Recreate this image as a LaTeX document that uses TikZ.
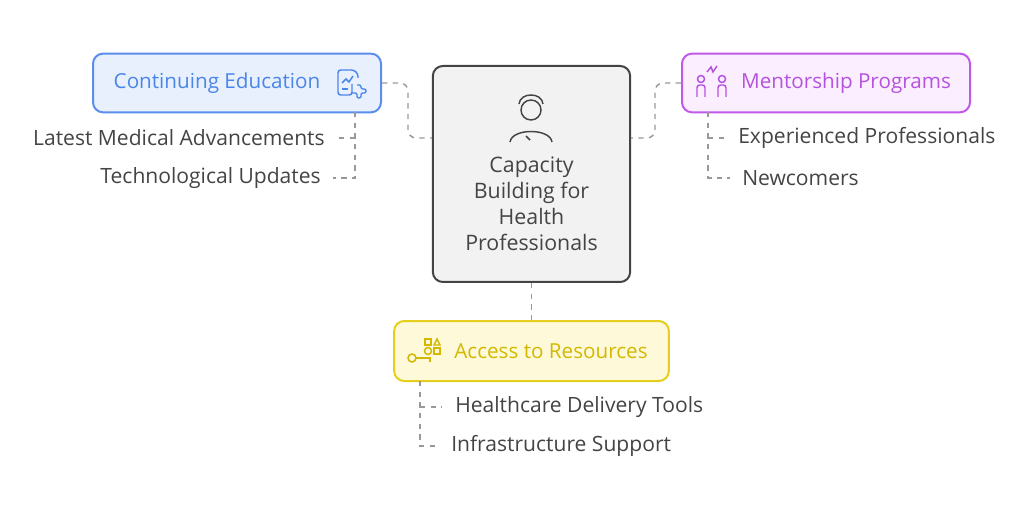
\documentclass[tikz,border=0pt]{standalone}
\usepackage{fontspec}
\setmainfont{Open Sans}
\begin{document}
\definecolor{txt}{HTML}{444444}
\definecolor{cbf}{HTML}{E8F0FE}\definecolor{cbd}{HTML}{5B8DEF}\definecolor{cbt}{HTML}{4A86E8}
\definecolor{mpf}{HTML}{FBEEFE}\definecolor{mpd}{HTML}{C158E8}\definecolor{mpt}{HTML}{B552DE}
\definecolor{arf}{HTML}{FDF9D9}\definecolor{ard}{HTML}{E5CF1C}\definecolor{art}{HTML}{D4B800}
\begin{tikzpicture}[x=0.75pt,y=-0.75pt,
 box/.style={draw,rounded corners=7.5pt,line width=1.5pt},
 ttl/.style={font=\fontsize{15.5}{18}\selectfont,inner sep=0},
 sub/.style={font=\fontsize{15.8}{18}\selectfont,text=txt,inner sep=0},
 dl/.style={draw=gray!80,dashed,line width=1.1pt,dash pattern=on 4pt off 4pt,rounded corners=6pt}]
\useasboundingbox (0,0) rectangle (1024,513);
% center
\node[box,draw=txt,fill=black!5,minimum width=148pt,minimum height=162pt] (c) at (531.5,174) {};
\node[align=center,text=txt,font=\fontsize{16}{19.5}\selectfont] (ct) at (531.5,204) {Capacity\\Building for\\Health\\Professionals};
% nurse icon
\begin{scope}[draw=txt,line width=1.1pt]
\draw (531,110) circle (10);
\draw (519,104) .. controls (520,92) and (542,92) .. (543,104);
\draw (510,142) .. controls (512,128) and (550,128) .. (552,142);
\draw (526,136) -- (530,140);
\end{scope}
% continuing education
\node[box,draw=cbd,fill=cbf,minimum width=216pt,minimum height=44pt] (ce) at (237,83) {};
\node[ttl,text=cbt] (cet) at (217,83) {Continuing Education};
\begin{scope}[draw=cbt,line width=1.1pt]
\draw[rounded corners=2pt] (352,84) -- (352,95) -- (338,95) -- (338,70) -- (354,70) -- (358,74) -- (358,78);
\draw (342,83) -- (346,79) -- (349,82) -- (353,76);
\draw (342,89) -- (348,89);
\draw[rounded corners=1pt] (357,85) -- (361,85) -- (361,89) -- (366,89) -- (366,93) -- (361,93) -- (361,98) -- (357,98) -- (357,93) -- (352,93);
\end{scope}
\node[sub,anchor=east] (lm) at (325,138) {Latest Medical Advancements};
\node[sub,anchor=east] (tu) at (321,178) {Technological Updates};
\coordinate (ceb) at (355,112);
\draw[dl] (ceb) -- (355,170) .. controls (355,178) .. (333,178);
\draw[dl] (355,138) -- (339,138);
% mentorship
\node[box,draw=mpd,fill=mpf,minimum width=216pt,minimum height=44pt] (mp) at (826,83) {};
\node[ttl,text=mpt] (mpt) at (846,83) {Mentorship Programs};
\begin{scope}[draw=mpt,line width=1.1pt]
\draw (701,79) circle (3.5); \draw[rounded corners=2pt] (697,97) -- (697,85) -- (705,85) -- (705,97);
\draw (722,79) circle (3.5); \draw[rounded corners=2pt] (718,97) -- (718,85) -- (726,85) -- (726,97);
\draw (707,72) -- (711,67) -- (713,72) -- (717,66);
\end{scope}
\node[sub,anchor=west] (ep) at (738,138) {Experienced Professionals};
\node[sub,anchor=west] (nc) at (742,178) {Newcomers};
\coordinate (mpb) at (708,112);
\draw[dl] (mpb) -- (708,170) .. controls (708,178) .. (730,178);
\draw[dl] (708,138) -- (728,138);
% access
\node[box,draw=ard,fill=arf,minimum width=206pt,minimum height=45pt] (ar) at (531.5,351) {};
\node[ttl,text=art] (art) at (551,351) {Access to Resources};
\begin{scope}[draw=art,line width=1.1pt]
\draw (412,358) circle (4); \draw (416,358) -- (430,358) -- (430,362);
\draw (425,339) rectangle (431,345); \draw (434,345) -- (437,339) -- (440,345) -- cycle;
\draw (428,351) circle (3.5); \draw (434,348) rectangle (440,354);
\end{scope}
\node[sub,anchor=west] (hd) at (455,407) {Healthcare Delivery Tools};
\node[sub,anchor=west] (is) at (451,446) {Infrastructure Support};
\coordinate (arb) at (420,381);
\draw[dl] (arb) -- (420,438) .. controls (420,446) .. (440,446);
\draw[dl] (420,407) -- (442,407);
% main connectors
\draw[dl] (ce.east) -- (408,83) -- (408,138) -- (c.west|-0,138);
\draw[dl] (mp.west) -- (655,83) -- (655,138) -- (c.east|-0,138);
\draw[dl] (c.south) -- (ar.north);
\end{tikzpicture}
\end{document}
